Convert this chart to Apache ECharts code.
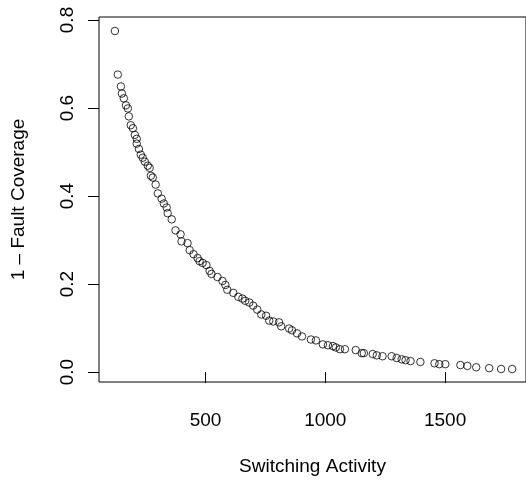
<!DOCTYPE html>
<html>
<head>
<meta charset="utf-8">
<script src="https://cdn.jsdelivr.net/npm/echarts@6/dist/echarts.min.js"></script>
<style>
html,body{margin:0;padding:0;background:#fff;}
#chart{width:526px;height:481px;}
</style>
</head>
<body>
<div id="chart"></div>
<script>
// Data
var switchingActivity = [
  122,134,147,151,159,168,176,180,188,197,205,213,213,222,230,238,247,259,267,272,
  280,292,301,317,326,338,342,359,375,396,400,425,434,450,467,475,488,504,517,525,
  550,571,583,591,616,637,654,666,683,699,716,733,753,766,783,807,816,849,861,882,
  903,940,961,990,1011,1032,1044,1061,1082,1127,1152,1161,1198,1215,1239,1277,1298,1319,1335,1356,
  1397,1456,1476,1501,1564,1593,1630,1684,1734,1780
];
var faultUncovered = [
  0.775,0.676,0.649,0.633,0.622,0.606,0.599,0.581,0.561,0.554,0.539,0.530,0.519,0.507,0.494,0.487,0.478,0.469,0.464,0.446,
  0.442,0.426,0.406,0.394,0.383,0.374,0.361,0.347,0.322,0.313,0.297,0.293,0.277,0.268,0.259,0.252,0.248,0.243,0.230,0.223,
  0.216,0.207,0.198,0.187,0.180,0.171,0.167,0.162,0.158,0.151,0.142,0.131,0.128,0.117,0.115,0.113,0.104,0.099,0.095,0.088,
  0.081,0.074,0.072,0.063,0.061,0.059,0.056,0.052,0.052,0.050,0.043,0.043,0.041,0.038,0.036,0.036,0.032,0.029,0.027,0.025,
  0.023,0.020,0.018,0.018,0.016,0.014,0.011,0.009,0.007,0.007
];
var xTicks = [500, 1000, 1500];
var yTicks = [0.0, 0.2, 0.4, 0.6, 0.8];
var xTitle = 'Switching Activity';
var yTitle = '1 \u2013 Fault Coverage';

var points = switchingActivity.map(function (x, i) { return [x, faultUncovered[i]]; });
var font = "'Liberation Sans', Arial, Helvetica, sans-serif";

var chart = echarts.init(document.getElementById('chart'), null, {renderer: 'canvas'});
chart.setOption({
  animation: false,
  backgroundColor: '#fff',
  grid: {
    left: 99, top: 17, width: 429, height: 368,
    show: true, borderColor: '#000', borderWidth: 1, backgroundColor: 'transparent'
  },
  xAxis: {
    type: 'value', min: 55.5, max: 1837.8,
    name: xTitle, nameLocation: 'middle', nameGap: 75,
    nameTextStyle: {fontFamily: font, fontSize: 19, color: '#000'},
    axisLine: {show: false},
    splitLine: {show: false},
    axisTick: {show: true, length: 11, customValues: xTicks, lineStyle: {color: '#000', width: 1}},
    axisLabel: {
      customValues: xTicks, fontFamily: font, fontSize: 19, color: '#000', margin: 29,
      formatter: function (v) { return String(v); }
    }
  },
  yAxis: {
    type: 'value', min: -0.0225, max: 0.8068,
    name: yTitle, nameLocation: 'middle', nameGap: 71, nameRotate: 90,
    nameTextStyle: {fontFamily: font, fontSize: 19, color: '#000'},
    axisLine: {show: false},
    splitLine: {show: false},
    axisTick: {show: true, length: 11, customValues: yTicks, lineStyle: {color: '#000', width: 1}},
    axisLabel: {
      customValues: yTicks, rotate: 90, fontFamily: font, fontSize: 19, color: '#000', margin: 22,
      formatter: function (v) { return v.toFixed(1); }
    }
  },
  series: [{
    type: 'scatter',
    data: points,
    symbol: 'circle',
    symbolSize: 7.5,
    itemStyle: {color: 'rgba(0,0,0,0)', borderColor: '#000', borderWidth: 1},
    emphasis: {disabled: true}
  }]
});
</script>
</body>
</html>
